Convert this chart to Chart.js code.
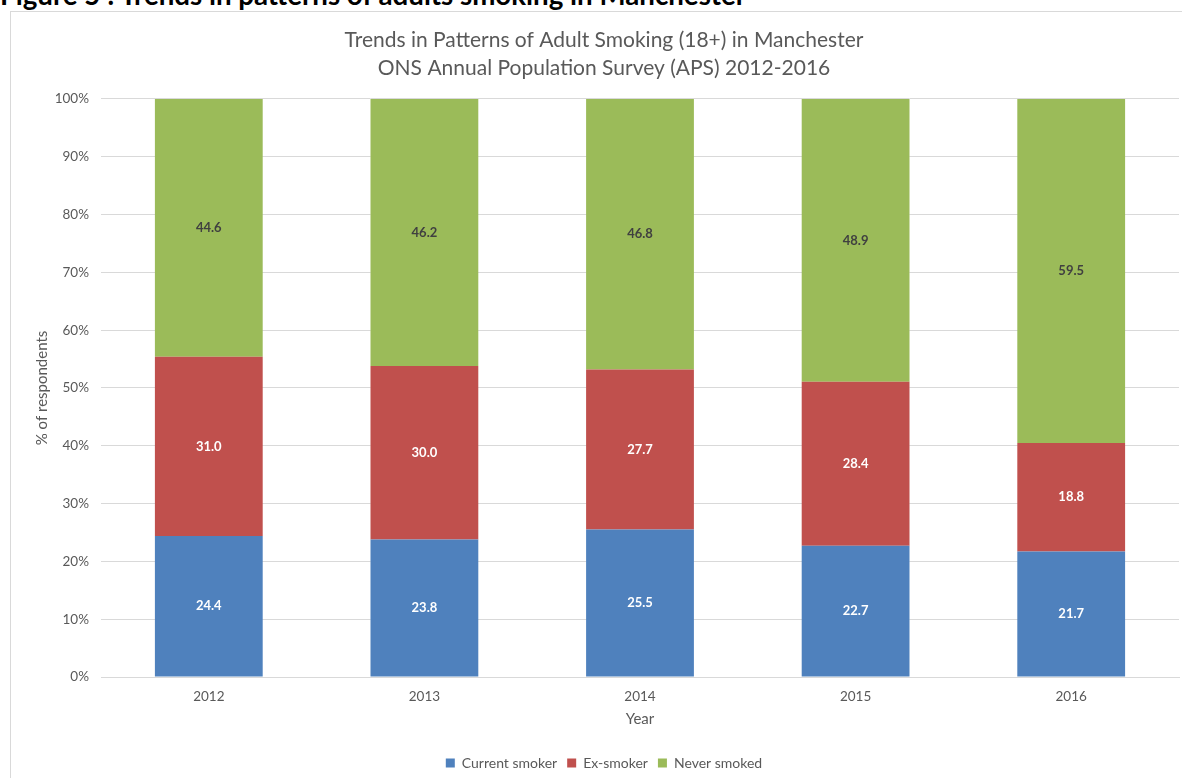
<!DOCTYPE html>
<html><head><meta charset="utf-8">
<script src="https://cdn.jsdelivr.net/npm/chart.js@4/dist/chart.umd.min.js"></script>
<style>
html,body{margin:0;padding:0;width:1182px;height:778px;overflow:hidden;background:#fff;}
#heading{position:absolute;left:0;top:-19px;font-family:Lato,sans-serif;font-weight:bold;font-size:27.7px;line-height:28px;color:#000;white-space:nowrap;}
#frame{position:absolute;left:10px;top:11px;width:1190px;height:790px;border:1px solid #d9d9d9;}
#wrap{position:absolute;left:1px;top:1px;width:1184px;height:780px;}
</style></head>
<body>
<div id="heading">Figure 5 : Trends in patterns of adults smoking in Manchester</div>
<div id="frame"><div id="wrap"><canvas id="c" width="1184" height="780"></canvas></div></div>
<script>
const years = ['2012','2013','2014','2015','2016'];
const currentSmoker = [24.4, 23.8, 25.5, 22.7, 21.7];
const exSmoker = [31.0, 30.0, 27.7, 28.4, 18.8];
const neverSmoked = [44.6, 46.2, 46.8, 48.9, 59.5];
const seriesNames = ['Current smoker','Ex-smoker','Never smoked'];
const titleLines = ['Trends in Patterns of Adult Smoking (18+) in Manchester','ONS Annual Population Survey (APS) 2012-2016'];

const FONT = 'Lato, sans-serif';
const GREY = '#595959';

const labelPlugin = {
  id: 'segLabels',
  afterDatasetsDraw(chart) {
    const ctx = chart.ctx;
    ctx.save();
    ctx.font = 'bold 13px ' + FONT;
    ctx.textAlign = 'center';
    ctx.textBaseline = 'middle';
    chart.data.datasets.forEach((ds, i) => {
      const meta = chart.getDatasetMeta(i);
      meta.data.forEach((bar, j) => {
        const v = ds.data[j];
        const y = (bar.y + bar.base) / 2;
        ctx.fillStyle = ds.labelColor;
        ctx.fillText(v.toFixed(1), bar.x, y);
      });
    });
    ctx.restore();
  }
};

new Chart(document.getElementById('c'), {
  type: 'bar',
  data: {
    labels: years,
    datasets: [
      {label: seriesNames[0], data: currentSmoker, backgroundColor: '#4F81BD', labelColor: '#ffffff'},
      {label: seriesNames[1], data: exSmoker, backgroundColor: '#C0504D', labelColor: '#ffffff'},
      {label: seriesNames[2], data: neverSmoked, backgroundColor: '#9BBB59', labelColor: '#404040'}
    ]
  },
  options: {
    responsive: false,
    animation: false,
    devicePixelRatio: 1,
    layout: {padding: {left: 17, right: 17, top: 0, bottom: 13}},
    datasets: {bar: {categoryPercentage: 1.0, barPercentage: 0.5, borderWidth: 0}},
    plugins: {
      title: {display: true, text: titleLines, color: GREY, font: {family: FONT, size: 21, weight: 'normal', lineHeight: 1.3333}, padding: {top: 13, bottom: 17}},
      legend: {position: 'bottom', labels: {color: GREY, font: {family: FONT, size: 14}, boxWidth: 9, boxHeight: 9, padding: 10}},
      tooltip: {enabled: false}
    },
    scales: {
      x: {
        stacked: true,
        afterFit(scale) { scale.height = 69; },
        grid: {display: false, drawTicks: false},
        border: {display: true, color: '#d9d9d9'},
        ticks: {color: GREY, font: {family: FONT, size: 13.5}, padding: 12},
        title: {display: true, text: 'Year', color: GREY, font: {family: FONT, size: 15}, padding: {top: 0, bottom: 18}}
      },
      y: {
        stacked: true,
        min: 0, max: 100,
        afterFit(scale) { scale.width = 72; },
        grid: {color: '#d9d9d9', drawTicks: false},
        border: {display: false},
        ticks: {stepSize: 10, color: GREY, font: {family: FONT, size: 13.5}, padding: 12, callback: v => v + '%'},
        title: {display: true, text: '% of respondents', color: GREY, font: {family: FONT, size: 15}, padding: {top: 4, bottom: 0}}
      }
    }
  },
  plugins: [labelPlugin]
});
</script>
</body></html>
